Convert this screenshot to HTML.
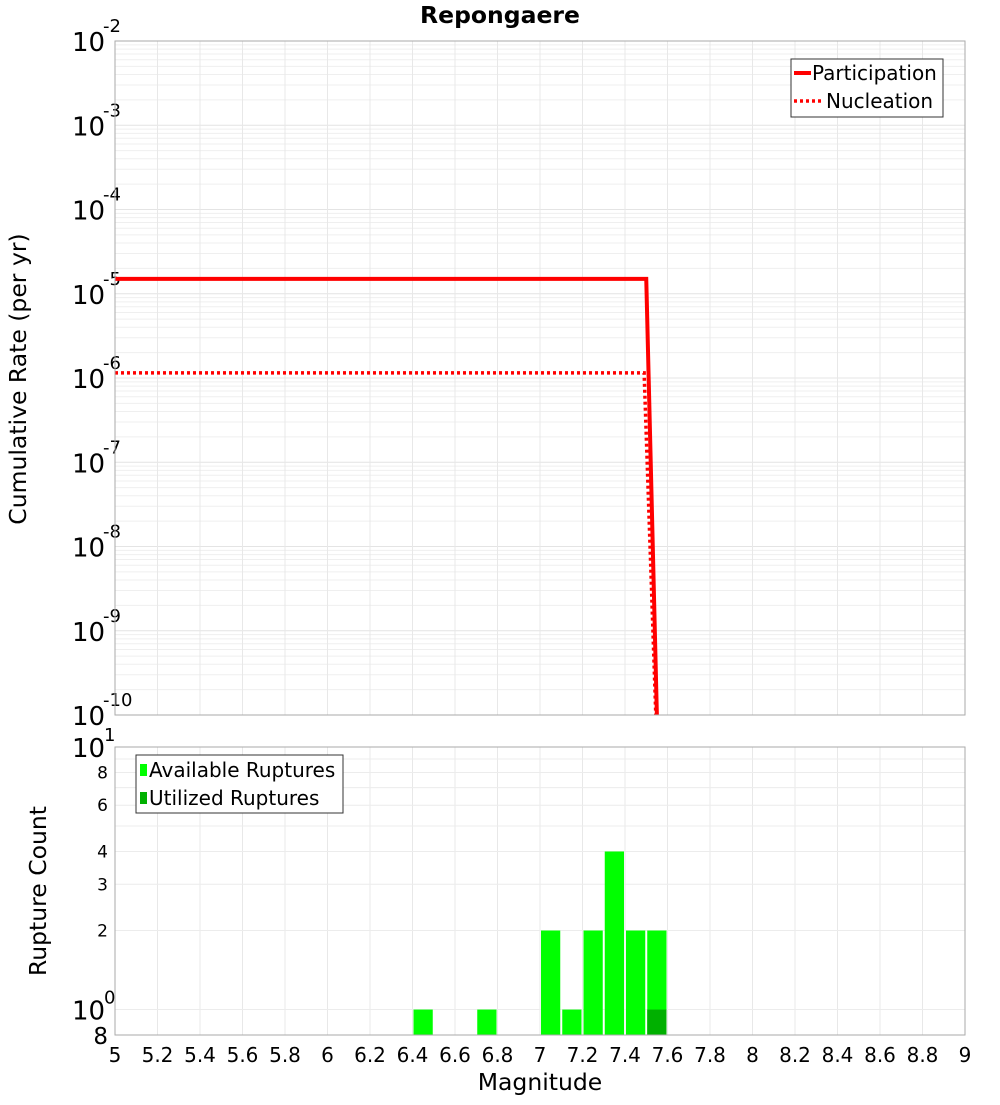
<!DOCTYPE html>
<html><head><meta charset="utf-8"><style>
body{margin:0;background:#fff;font-family:"Liberation Sans","DejaVu Sans",sans-serif}
svg text{font-family:"DejaVu Sans","Liberation Sans",sans-serif}
</style></head><body>
<svg id="c" width="1000" height="1100" xmlns="http://www.w3.org/2000/svg">
<rect width="1000" height="1100" fill="#fff"/>
<text x="500" y="23" text-anchor="middle" font-size="23.5" font-weight="bold">Repongaere</text>
<g id="g"></g>
</svg>
<script>
const xTicks=[5,5.2,5.4,5.6,5.8,6,6.2,6.4,6.6,6.8,7,7.2,7.4,7.6,7.8,8,8.2,8.4,8.6,8.8,9];
const partMags=[5,7.5,7.55];
const partRates=[1.5e-5,1.5e-5,1e-10];
const nuclMags=[5,7.49,7.545];
const nuclRates=[1.15e-6,1.15e-6,1e-10];
const binCenters=[6.45,6.75,7.05,7.15,7.25,7.35,7.45,7.55];
const availCounts=[1,1,2,1,2,4,2,2];
const usedCenters=[7.55];
const usedCounts=[1];
const topDecades=[-10,-9,-8,-7,-6,-5,-4,-3,-2];
const botTicks=[0.8,1,2,3,4,6,8,10];

const NS="http://www.w3.org/2000/svg";
const g=document.getElementById('g');
const X0=115,X1=965,T0=41,T1=715,B0=747,B1=1035;
const x=m=>X0+(m-5)/4*(X1-X0);
const yT=v=>T1-(Math.log10(v)+10)/8*(T1-T0);
const bLo=Math.log10(0.8),bHi=1;
const yB=v=>B1-(Math.log10(v)-bLo)/(bHi-bLo)*(B1-B0);
function el(t,a,p){const e=document.createElementNS(NS,t);for(const k in a)e.setAttribute(k,a[k]);(p||g).appendChild(e);return e;}

for(const d of topDecades){for(let k=1;k<10;k++){const v=k*Math.pow(10,d);if(v>1e-2+1e-12)break;const yy=yT(v);
const ln=el('line',{x1:X0,x2:X1,y1:yy,y2:yy,stroke:k==1?'#e4e4e4':'#efefef','stroke-width':1});

}}
for(const t of xTicks){
const l1=el('line',{x1:x(t),x2:x(t),y1:T0,y2:T1,stroke:'#e8e8e8'});


const l2=el('line',{x1:x(t),x2:x(t),y1:B0,y2:B1,stroke:'#e8e8e8'});

}
for(const v of [1,2,3,4,5,6,7,8,9,10]){const l=el('line',{x1:X0,x2:X1,y1:yB(v),y2:yB(v),stroke:'#ececec'});

}

for(const d of topDecades){const yy=yT(Math.pow(10,d));
const t=el('text',{x:72,y:yy+10,'font-size':26});


t.textContent='10';
const s=el('text',{x:103,y:yy-9,'font-size':18});


s.textContent=String(d);}

function path(ms,rs){return ms.map((m,i)=>(i?'L':'M')+x(m)+','+yT(rs[i])).join(' ');}
const p1=el('path',{d:path(partMags,partRates),fill:'none',stroke:'#ff0000','stroke-width':4});


const p2=el('path',{d:path(nuclMags,nuclRates),fill:'none',stroke:'#ff0000','stroke-width':3.5,'stroke-dasharray':'3,3'});



el('rect',{x:X0,y:T0,width:X1-X0,height:T1-T0,fill:'none',stroke:'#aaa'});

const lg=el('g',{});


el('rect',{x:791,y:59,width:152,height:58,fill:'#fff',stroke:'#333'},lg);
el('line',{x1:794,x2:811,y1:73,y2:73,stroke:'#f00','stroke-width':4},lg);
el('line',{x1:794,x2:821,y1:101,y2:101,stroke:'#f00','stroke-width':3.5,'stroke-dasharray':'3,3'},lg);
let t=el('text',{x:812,y:80,'font-size':20},lg);t.textContent='Participation';
t=el('text',{x:826,y:108,'font-size':20},lg);t.textContent='Nucleation';

const bw=(x(0.1+5)-x(5));
binCenters.forEach((c,i)=>{const r=el('rect',{x:x(c-0.05)+1,y:yB(availCounts[i]),width:bw-2,height:B1-yB(availCounts[i]),fill:'#00ff00'});

});
usedCenters.forEach((c,i)=>{const r=el('rect',{x:x(c-0.05)+1,y:yB(usedCounts[i]),width:bw-2,height:B1-yB(usedCounts[i]),fill:'#00b000'});

});
el('rect',{x:X0,y:B0,width:X1-X0,height:B1-B0,fill:'none',stroke:'#aaa'});

for(const v of botTicks){const yy=yB(v);
if(v==1||v==10){const a=el('text',{x:72,y:yy+10,'font-size':26});a.textContent='10';
const b=el('text',{x:104,y:yy-6,'font-size':18});b.textContent=v==1?'0':'1';}
else{const a=el('text',{x:108,y:yy+(v==0.8?9:6),'font-size':v==0.8?23:17,'text-anchor':'end'});a.textContent=v==0.8?'8':String(v);}}

for(const tk of xTicks){const a=el('text',{x:x(tk),y:1062,'font-size':20,'text-anchor':'middle'});


a.textContent=String(tk);}

const bl=el('g',{});


el('rect',{x:136,y:755,width:207,height:58,fill:'#fff',stroke:'#333'},bl);
el('rect',{x:140,y:764,width:7,height:12,fill:'#00ff00'},bl);
el('rect',{x:140,y:792,width:7,height:12,fill:'#00b000'},bl);
t=el('text',{x:149,y:777,'font-size':20},bl);t.textContent='Available Ruptures';
t=el('text',{x:149,y:805,'font-size':20},bl);t.textContent='Utilized Ruptures';

t=el('text',{x:540,y:1090,'font-size':23.5,'text-anchor':'middle'});t.textContent='Magnitude';
t=el('text',{x:0,y:0,'font-size':23.5,'text-anchor':'middle',transform:'translate(26,379) rotate(-90)'});t.textContent='Cumulative Rate (per yr)';
t=el('text',{x:0,y:0,'font-size':23.5,'text-anchor':'middle',transform:'translate(46,891) rotate(-90)'});t.textContent='Rupture Count';
</script>
</body></html>
